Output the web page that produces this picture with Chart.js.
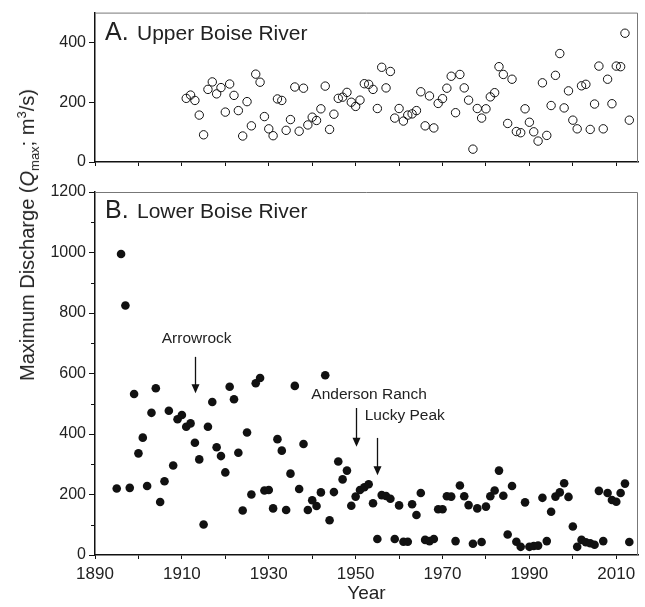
<!DOCTYPE html>
<html>
<head>
<meta charset="utf-8">
<script src="https://cdn.jsdelivr.net/npm/chart.js@4.4.1/dist/chart.umd.min.js"></script>
<style>
	body { margin: 0; background: #fff; font-family: "Liberation Sans", Arial, sans-serif; }
	#wrap { position: relative; width: 645px; height: 607px; overflow: hidden; }
	#upper { position: absolute; left: 0; top: 0; }
	#lower { position: absolute; left: 0; top: 175px; }
	#ytitle {
		position: absolute; left: 27px; top: 235px;
		transform: translate(-50%, -50%) rotate(-90deg);
		white-space: nowrap; font-size: 20px; color: #222; line-height: 1;
	}
	#ytitle sub, #ytitle sup { font-size: 13px; line-height: 0; }
</style>
</head>
<body>
<div id="wrap">
	<canvas id="upper" width="645" height="175"></canvas>
	<canvas id="lower" width="645" height="432"></canvas>
	<div id="ytitle">Maximum Discharge (<i>Q</i><sub>max</sub>; m<sup>3</sup>/s)</div>
</div>
<script>
// Upper Boise River, annual peak flow (m3/s)
const upperYears = [
	1911, 1912, 1913, 1914, 1915, 1916, 1917, 1918, 1919, 1920,
	1921, 1922, 1923, 1924, 1925, 1926, 1927, 1928, 1929, 1930,
	1931, 1932, 1933, 1934, 1935, 1936, 1937, 1938, 1939, 1940,
	1941, 1942, 1943, 1944, 1945, 1946, 1947, 1948, 1949, 1950,
	1951, 1952, 1953, 1954, 1955, 1956, 1957, 1958, 1959, 1960,
	1961, 1962, 1963, 1964, 1965, 1966, 1967, 1968, 1969, 1970,
	1971, 1972, 1973, 1974, 1975, 1976, 1977, 1978, 1979, 1980,
	1981, 1982, 1983, 1984, 1985, 1986, 1987, 1988, 1989, 1990,
	1991, 1992, 1993, 1994, 1995, 1996, 1997, 1998, 1999, 2000,
	2001, 2002, 2003, 2004, 2005, 2006, 2007, 2008, 2009, 2010,
	2011, 2012, 2013
];
const upperQmax = [
	213, 224, 206, 157, 91, 243, 268, 228, 249, 167,
	261, 223, 172, 87, 202, 121, 294, 267, 152, 111,
	88, 211, 206, 106, 142, 251, 103, 247, 124, 150,
	139, 178, 254, 109, 160, 213, 217, 233, 200, 186,
	207, 262, 260, 243, 179, 317, 248, 303, 147, 179,
	137, 157, 161, 172, 235, 121, 221, 114, 196, 212,
	247, 287, 165, 293, 248, 207, 43, 179, 147, 178,
	218, 232, 319, 293, 129, 277, 102, 98, 178, 133,
	101, 70, 265, 89, 189, 290, 363, 181, 238, 140,
	111, 255, 260, 109, 194, 321, 111, 277, 195, 321,
	319, 431, 140
];

// Lower Boise River, annual peak flow (m3/s)
const lowerYears = [
	1895, 1896, 1897, 1898, 1899, 1900,
	1901, 1902, 1903, 1904, 1905, 1906, 1907, 1908, 1909, 1910,
	1911, 1912, 1913, 1914, 1915, 1916, 1917, 1918, 1919, 1920,
	1921, 1922, 1923, 1924, 1925, 1926, 1927, 1928, 1929, 1930,
	1931, 1932, 1933, 1934, 1935, 1936, 1937, 1938, 1939, 1940,
	1941, 1942, 1943, 1944, 1945, 1946, 1947, 1948, 1949, 1950,
	1951, 1952, 1953, 1954, 1955, 1956, 1957, 1958, 1959, 1960,
	1961, 1962, 1963, 1964, 1965, 1966, 1967, 1968, 1969, 1970,
	1971, 1972, 1973, 1974, 1975, 1976, 1977, 1978, 1979, 1980,
	1981, 1982, 1983, 1984, 1985, 1986, 1987, 1988, 1989, 1990,
	1991, 1992, 1993, 1994, 1995, 1996, 1997, 1998, 1999, 2000,
	2001, 2002, 2003, 2004, 2005, 2006, 2007, 2008, 2009, 2010,
	2011, 2012, 2013
];
const lowerQmax = [
	220, 995, 825, 222, 532, 336,
	388, 228, 470, 551, 175, 244, 477, 296, 449, 463,
	424, 435, 371, 316, 101, 424, 506, 356, 327, 273,
	556, 515, 338, 147, 405, 200, 568, 585, 213, 215,
	154, 383, 345, 149, 269, 559, 218, 367, 149, 181,
	162, 207, 594, 115, 208, 309, 250, 279, 163, 193,
	215, 224, 234, 171, 53, 198, 195, 186, 53, 164,
	44, 44, 168, 132, 205, 50, 46, 53, 151, 151,
	194, 193, 46, 230, 194, 165, 37, 154, 43, 160,
	194, 213, 279, 196, 68, 228, 44, 27, 174, 27,
	30, 31, 189, 46, 143, 193, 207, 237, 192, 94,
	27, 50, 42, 39, 34, 212, 46, 205, 182, 176,
	205, 236, 43
];

// Dam labels: year of the arrow, arrow from/to (m3/s), label anchor
const damNames = [ 'Arrowrock', 'Anderson Ranch', 'Lucky Peak' ];
const damYears = [ 1913, 1950, 1955 ];
const damArrowTop = [ 655, 486, 387 ];
const damArrowTip = [ 535, 358, 264 ];
const damLabelYear = [ 1913.4, 1953.1, 1961.3 ];
const damLabelQ = [ 701, 516, 446 ];

const FONT = '"Liberation Sans", Arial, sans-serif';

function toPoints( xs, ys ) {
	return xs.map( ( x, i ) => ( { x: x, y: ys[ i ] } ) );
}

// Gray top/right frame, short minor y ticks and the panel heading
const framePlugin = {
	id: 'frame',
	afterDraw( chart, args, opts ) {
		const ctx = chart.ctx, a = chart.chartArea, sy = chart.scales.y;
		ctx.save();
		ctx.strokeStyle = '#777';
		ctx.lineWidth = 1;
		ctx.beginPath();
		ctx.moveTo( a.left, a.top + 0.5 );
		ctx.lineTo( a.right - 0.5, a.top + 0.5 );
		ctx.lineTo( a.right - 0.5, a.bottom );
		ctx.stroke();

		// minor ticks (those without a label) are shorter
		ctx.strokeStyle = '#111';
		sy.ticks.forEach( function ( t ) {
			if ( t.label !== '' ) return;
			const y = Math.round( sy.getPixelForValue( t.value ) ) + 0.5;
			ctx.beginPath();
			ctx.moveTo( a.left - 4, y );
			ctx.lineTo( a.left, y );
			ctx.stroke();
		} );

		ctx.fillStyle = '#222';
		ctx.textBaseline = 'alphabetic';
		ctx.textAlign = 'left';
		ctx.font = '25px ' + FONT;
		ctx.fillText( opts.letter, a.left + 10, a.top + opts.base );
		ctx.font = '21px ' + FONT;
		ctx.fillText( opts.title, a.left + 42, a.top + opts.base );
		ctx.restore();
	}
};

// Dam arrows for the lower panel
const damPlugin = {
	id: 'dams',
	afterDatasetsDraw( chart ) {
		const ctx = chart.ctx, sx = chart.scales.x, sy = chart.scales.y;
		ctx.save();
		ctx.strokeStyle = '#111';
		ctx.fillStyle = '#111';
		ctx.lineWidth = 1.3;
		damNames.forEach( function ( name, i ) {
			const x = Math.round( sx.getPixelForValue( damYears[ i ] ) ) + 0.5,
				y0 = sy.getPixelForValue( damArrowTop[ i ] ),
				y1 = sy.getPixelForValue( damArrowTip[ i ] );
			ctx.beginPath();
			ctx.moveTo( x, y0 );
			ctx.lineTo( x, y1 - 8 );
			ctx.stroke();
			ctx.beginPath();
			ctx.moveTo( x - 4, y1 - 9 );
			ctx.lineTo( x + 4, y1 - 9 );
			ctx.lineTo( x, y1 );
			ctx.closePath();
			ctx.fill();

			ctx.font = '15.5px ' + FONT;
			ctx.textAlign = 'center';
			ctx.textBaseline = 'alphabetic';
			ctx.fillStyle = '#222';
			ctx.fillText( name, sx.getPixelForValue( damLabelYear[ i ] ), sy.getPixelForValue( damLabelQ[ i ] ) );
			ctx.fillStyle = '#111';
		} );
		ctx.restore();
	}
};

function xScale( showLabels, height ) {
	return {
		type: 'linear',
		min: 1890,
		max: 2015,
		afterFit: function ( scale ) { scale.height = height; },
		border: { color: '#111', width: 1.5 },
		grid: { drawOnChartArea: false, drawTicks: true, tickLength: 4, color: '#111', tickWidth: 1 },
		ticks: {
			display: showLabels,
			stepSize: 10,
			includeBounds: false,
			autoSkip: false,
			maxRotation: 0,
			padding: 5,
			color: '#222',
			font: { family: FONT, size: 17 },
			callback: function ( v ) { return v % 20 === 10 ? String( v ) : ''; }
		},
		title: {
			display: showLabels,
			text: 'Year',
			color: '#222',
			font: { family: FONT, size: 19 },
			padding: { top: 0, bottom: 2 }
		}
	};
}

function yScale( max, step, labelEvery ) {
	return {
		type: 'linear',
		min: 0,
		max: max,
		afterFit: function ( scale ) { scale.width = 95; },
		border: { color: '#111', width: 1.5 },
		grid: {
			drawOnChartArea: false, drawTicks: true, tickLength: 6, tickWidth: 1,
			// minor ticks are drawn short by the frame plugin
			color: function ( c ) { return c.tick && c.tick.value % labelEvery !== 0 ? 'rgba(0,0,0,0)' : '#111'; }
		},
		ticks: {
			stepSize: step,
			includeBounds: false,
			autoSkip: false,
			padding: 3,
			color: '#222',
			font: { family: FONT, size: 16 },
			callback: function ( v ) { return v % labelEvery === 0 ? String( v ) : ''; }
		}
	};
}

const common = {
	responsive: false,
	animation: false,
	plugins: { legend: { display: false }, tooltip: { enabled: false } }
};

new Chart( document.getElementById( 'upper' ).getContext( '2d' ), {
	type: 'scatter',
	data: {
		datasets: [ {
			label: 'Upper Boise River',
			data: toPoints( upperYears, upperQmax ),
			pointRadius: 4.2,
			pointBorderWidth: 1,
			borderColor: '#111',
			backgroundColor: 'rgba(255,255,255,0)'
		} ]
	},
	options: Object.assign( {}, common, {
		layout: { padding: { top: 9, right: 7, left: 0, bottom: 0 } },
		clip: false,
		scales: { x: xScale( false, 13 ), y: yScale( 500, 200, 200 ) },
		plugins: Object.assign( {}, common.plugins, { frame: { letter: 'A.', title: 'Upper Boise River', base: 27 } } )
	} ),
	plugins: [ framePlugin ]
} );

new Chart( document.getElementById( 'lower' ).getContext( '2d' ), {
	type: 'scatter',
	data: {
		datasets: [ {
			label: 'Lower Boise River',
			data: toPoints( lowerYears, lowerQmax ),
			pointRadius: 4.3,
			pointBorderWidth: 0,
			borderColor: '#111',
			backgroundColor: '#111'
		} ]
	},
	options: Object.assign( {}, common, {
		layout: { padding: { top: 17, right: 7, left: 0, bottom: 0 } },
		clip: false,
		scales: { x: xScale( true, 52 ), y: yScale( 1200, 100, 200 ) },
		plugins: Object.assign( {}, common.plugins, { frame: { letter: 'B.', title: 'Lower Boise River', base: 26 } } )
	} ),
	plugins: [ framePlugin, damPlugin ]
} );
</script>
</body>
</html>
